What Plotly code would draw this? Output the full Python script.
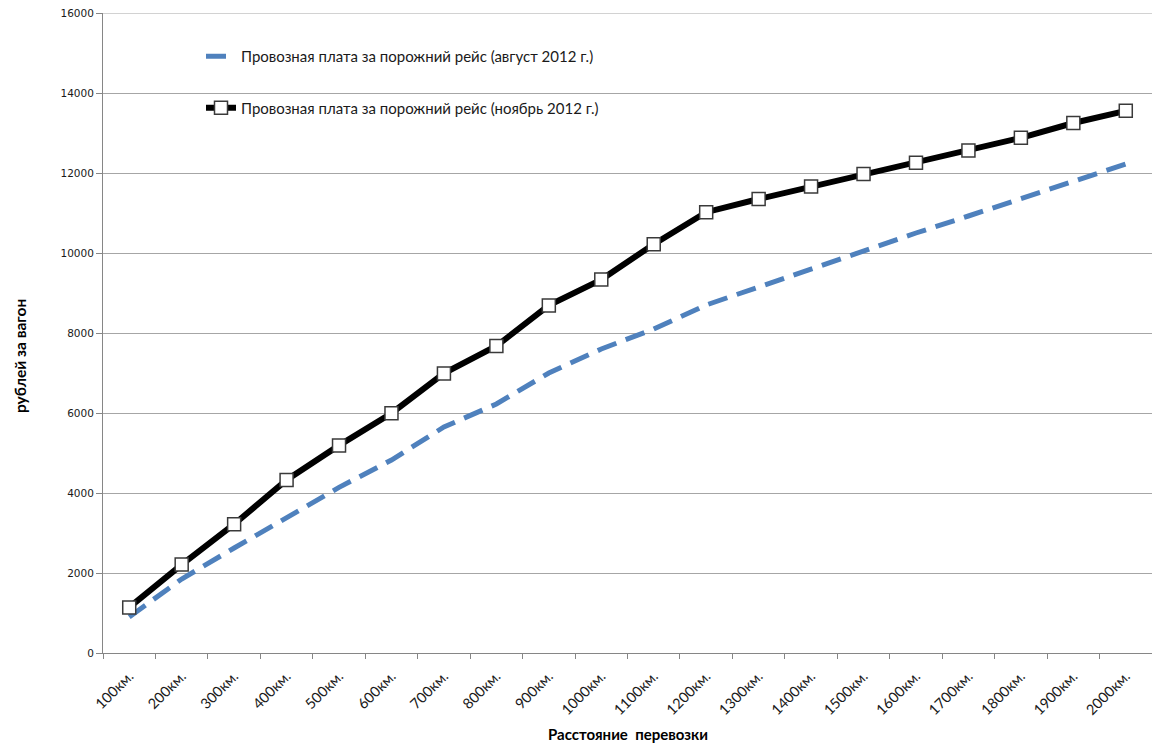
import plotly.graph_objects as go

# Distances (categories) and freight charges for an empty run, rub per wagon
distances = ["100км.", "200км.", "300км.", "400км.", "500км.", "600км.", "700км.",
             "800км.", "900км.", "1000км.", "1100км.", "1200км.", "1300км.", "1400км.",
             "1500км.", "1600км.", "1700км.", "1800км.", "1900км.", "2000км."]

fee_aug_2012 = [900, 1850, 2625, 3400, 4140, 4825, 5650, 6225, 7000, 7600,
                8100, 8700, 9150, 9625, 10075, 10500, 10925, 11350, 11775, 12225]

fee_nov_2012 = [1140, 2210, 3220, 4325, 5190, 5995, 6990, 7675, 8690, 9335,
                10220, 11020, 11350, 11660, 11975, 12255, 12560, 12880, 13250, 13555]

name_aug = "Провозная плата за порожний рейс (август 2012 г.)"
name_nov = "Провозная плата за порожний рейс (ноябрь 2012 г.)"

y_ticks = list(range(0, 16001, 2000))
y_tick_text = [str(v) for v in y_ticks]

W, H = 1152, 743
L, R, T, B = 103, 0, 13, 90
pw, ph = W - L - R, H - T - B

BODY_FONT = "Lato, Open Sans, sans-serif"


def px_x(px):
    return (px - L) / pw


def px_y(py):
    return (H - B - py) / ph


fig = go.Figure()

fig.add_trace(go.Scatter(
    x=distances, y=fee_aug_2012, name=name_aug, mode="lines",
    legendgroup="aug",
    line=dict(color="#4f81bd", width=5, dash="20px,10px"),
))

fig.add_trace(go.Scatter(
    x=distances, y=fee_nov_2012, name=name_nov, mode="lines+markers",
    legendgroup="nov",
    line=dict(color="#000000", width=6),
    marker=dict(symbol="square", size=13, color="#ffffff",
                line=dict(color="#3a3a3a", width=1.5)),
))

fig.update_layout(
    width=W, height=H,
    margin=dict(l=L, r=R, t=T, b=B),
    paper_bgcolor="#ffffff", plot_bgcolor="#ffffff",
    showlegend=True,
    legend=dict(
        x=px_x(201), y=px_y(40), xanchor="left", yanchor="top",
        bgcolor="rgba(0,0,0,0)", traceorder="grouped", tracegroupgap=29,
        font=dict(family=BODY_FONT, size=15, color="#1a1a1a"),
    ),
    xaxis=dict(
        type="category", range=[-0.5, len(distances) - 0.5],
        showgrid=False, showline=True, linecolor="#868686", linewidth=1,
        ticks="outside", tickson="boundaries", ticklen=5, tickcolor="#868686",
        tickangle=-45, ticklabelstandoff=8,
        tickfont=dict(family=BODY_FONT, size=14.5, color="#1a1a1a"),
    ),
    yaxis=dict(
        range=[0, 16000], tickvals=y_ticks, ticktext=y_tick_text,
        showgrid=True, gridcolor="#a6a6a6", gridwidth=1,
        showline=True, linecolor="#868686", linewidth=1,
        ticks="outside", ticklen=6, tickcolor="#868686",
        zeroline=False,
        tickfont=dict(family="DejaVu Sans, Verdana, sans-serif", size=10.5, color="#1a1a1a"),
    ),
    shapes=[
        # top gridline at the axis maximum
        dict(type="line", xref="paper", yref="y", x0=0, x1=1,
             y0=y_ticks[-1], y1=y_ticks[-1],
             line=dict(color="#a6a6a6", width=1), layer="between"),
        # white backing behind the legend box (hides the gridline there)
        dict(type="rect", xref="paper", yref="paper",
             x0=px_x(135), x1=px_x(668), y0=px_y(125), y1=px_y(30),
             fillcolor="#ffffff", line=dict(width=0), layer="between"),
    ],
    annotations=[
        dict(text="<b>рублей за вагон</b>", xref="paper", yref="paper",
             x=px_x(20), y=px_y(356), textangle=-90, showarrow=False,
             xanchor="center", yanchor="middle",
             font=dict(family="Lato, Liberation Sans, sans-serif",
                       size=15.5, color="#000000")),
        dict(text="<b>Расстояние  перевозки</b>", xref="paper", yref="paper",
             x=px_x(628), y=px_y(734), showarrow=False,
             xanchor="center", yanchor="middle",
             font=dict(family=BODY_FONT, size=15, color="#000000")),
    ],
)

fig.write_html("out.html")
